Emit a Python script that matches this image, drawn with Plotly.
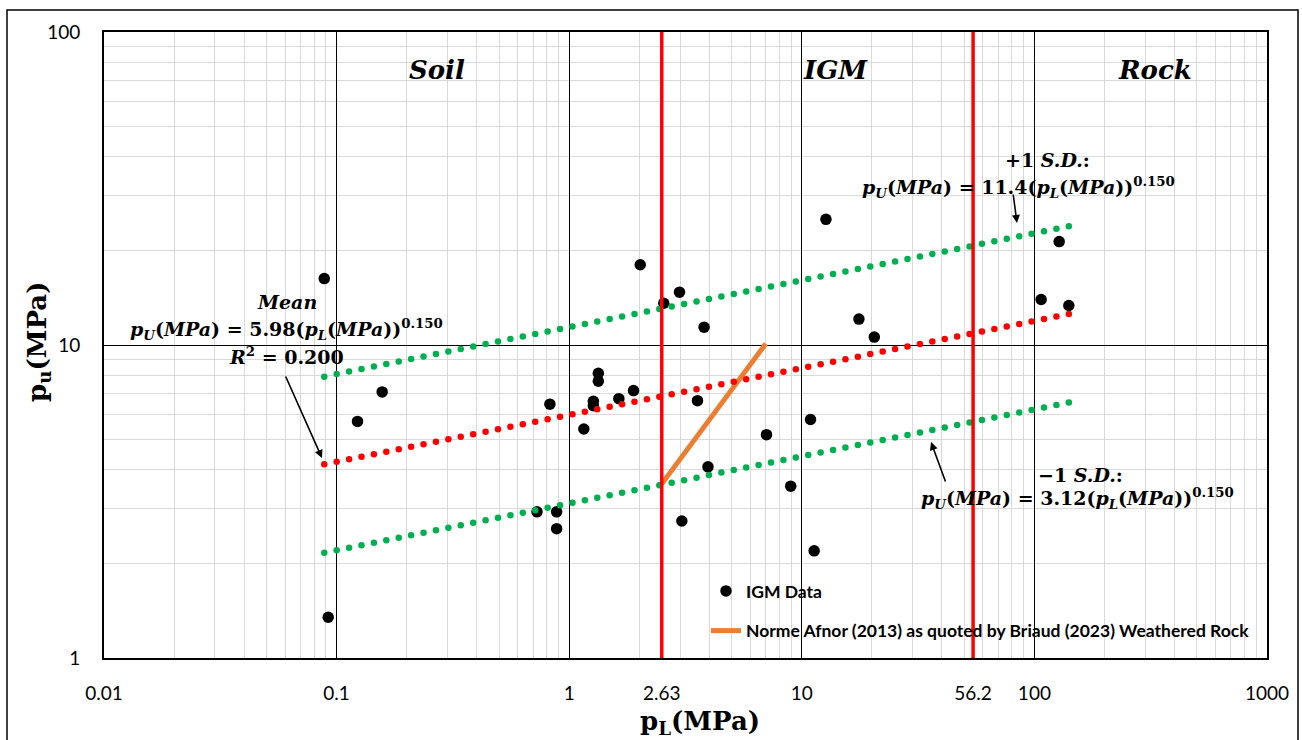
import numpy as np
import plotly.graph_objects as go

# ---------------- data ----------------
pl_data = [0.0885, 0.092, 0.123, 0.157, 0.727, 0.826, 0.883, 0.883, 1.156, 1.27,
           1.27, 1.334, 1.334, 1.635, 1.89, 2.02, 2.55, 2.98, 3.05, 3.56,
           3.80, 3.95, 7.05, 8.96, 10.9, 11.3, 12.7, 17.6, 20.5, 106.9,
           127.8, 140.6]
pu_data = [16.3, 1.35, 5.70, 7.08, 2.93, 6.47, 2.93, 2.59, 5.39, 6.61,
           6.40, 8.12, 7.66, 6.74, 7.15, 18.05, 13.6, 14.75, 2.74, 6.64,
           11.4, 4.08, 5.17, 3.54, 5.78, 2.20, 25.2, 12.1, 10.6, 13.98,
           21.4, 13.37]

afnor_pl = [2.5, 7.0]
afnor_pu = [3.6, 10.1]

# power-law trend coefficients shown on the chart: pu = a * pl^b
coef_mean, coef_plus, coef_minus = 5.98, 11.4, 3.12
exponent = 0.150

boundary_x = [2.5, 54.5]          # red class boundaries (as drawn)
boundary_labels = ["2.63", "56.2"]

x_tickvals = [0.01, 0.1, 1, boundary_x[0], 10, boundary_x[1], 100, 1000]
x_ticktext = ["0.01", "0.1", "1", boundary_labels[0], "10", boundary_labels[1], "100", "1000"]
y_tickvals = [1, 10, 100]
y_ticktext = ["1", "10", "100"]

region_labels = ["Soil", "IGM", "Rock"]

# ---------------- geometry helpers (plot area in pixels) ----------------
L, R, T, B = 104.0, 1267.0, 32.0, 658.0
def px(xp):
    return (xp - L) / (R - L)
def py(yp):
    return (B - yp) / (B - T)

SERIF = "DejaVu Serif"
SANS = "Lato"

fig = go.Figure()

# data points
fig.add_trace(go.Scatter(
    x=pl_data, y=pu_data, mode="markers", name="<b>IGM Data</b>",
    marker=dict(color="black", size=11.5), legendgroup="a", cliponaxis=False))

# Afnor line
fig.add_trace(go.Scatter(
    x=afnor_pl, y=afnor_pu, mode="lines",
    name="<b>Norme Afnor (2013) as quoted by Briaud (2023) Weathered Rock</b>",
    line=dict(color="#ED7D31", width=5), legendgroup="b"))

# trend lines, drawn as dotted markers
xt = np.logspace(np.log10(min(pl_data)), np.log10(max(pl_data)), 61)
for coef, col in [(coef_plus, "#00B050"), (coef_mean, "#FF0000"), (coef_minus, "#00B050")]:
    fig.add_trace(go.Scatter(
        x=xt, y=coef * xt ** exponent, mode="markers",
        marker=dict(color=col, size=6.5), showlegend=False, hoverinfo="skip"))

# red boundaries
for bx in boundary_x:
    fig.add_trace(go.Scatter(
        x=[bx, bx], y=[1, 100], mode="lines",
        line=dict(color="#FF0000", width=3.5), showlegend=False, hoverinfo="skip"))

ann = []
def text_ann(xp, yp, text, font, **kw):
    d = dict(x=px(xp), y=py(yp), xref="paper", yref="paper", text=text,
             showarrow=False, xanchor="center", yanchor="middle", font=font)
    d.update(kw)
    ann.append(d)

# region labels
for txt, xp in zip(region_labels, [437, 835, 1155]):
    text_ann(xp, 70, f"<b><i>{txt}</i></b>", dict(family=SERIF, size=26, color="black"))

def eq(coef):
    return (f"<b><i>p<sub>U</sub></i>(<i>MPa</i>) = {coef}"
            f"(<i>p<sub>L</sub></i>(<i>MPa</i>))<sup>0.150</sup></b>")

eqfont = dict(family=SERIF, size=19, color="black")
# Mean block
text_ann(287, 302, "<b><i>Mean</i></b>", eqfont)
text_ann(286, 329, eq("5.98"), eqfont)
text_ann(286, 356, "<b><i>R</i><sup>2</sup> = 0.200</b>", eqfont)
# +1 SD
text_ann(1047, 160, "<b>+1 <i>S.D.</i>:</b>", eqfont)
text_ann(1018, 187, eq("11.4"), eqfont)
# -1 SD
text_ann(1080, 475, "<b>−1 <i>S.D.</i>:</b>", eqfont)
text_ann(1077, 498, eq("3.12"), eqfont)

# arrows
for hx, hy, tx, ty in [(322, 458, 285, 375), (1017, 223, 1013, 193), (931, 442, 946, 483)]:
    ann.append(dict(x=px(hx), y=py(hy), xref="paper", yref="paper", text="",
                    showarrow=True, ax=tx - hx, ay=ty - hy, arrowhead=2,
                    arrowsize=1, arrowwidth=1.6, arrowcolor="black"))

# axis titles
text_ann(700, 722, "<b>p<sub>L</sub>(MPa)</b>", dict(family=SERIF, size=26, color="black"))
text_ann(38, 342, "<b>p<sub>u</sub>(MPa)</b>", dict(family=SERIF, size=26, color="black"),
         textangle=-90)

fig.update_layout(
    width=1302, height=740,
    margin=dict(l=104, r=35, t=32, b=82),
    paper_bgcolor="white", plot_bgcolor="white",
    annotations=ann,
    showlegend=True,
    legend=dict(x=px(706), y=py(573), xanchor="left", yanchor="top",
                bgcolor="rgba(0,0,0,0)", tracegroupgap=14, itemwidth=30,
                font=dict(family=SANS, size=17.5, color="black")),
    shapes=[dict(type="rect", xref="paper", yref="paper",
                 x0=px(7), x1=px(1298), y0=py(760), y1=py(10),
                 line=dict(color="black", width=1.5), layer="below")],
    xaxis=dict(type="log", range=[-2, 3], tickmode="array",
               tickvals=x_tickvals, ticktext=x_ticktext,
               showgrid=True, gridcolor="black", gridwidth=1,
               minor=dict(dtick="D1", showgrid=True, gridcolor="#d9d9d9", gridwidth=1),
               ticks="outside", ticklen=17, tickcolor="rgba(0,0,0,0)",
               showline=True, linecolor="black", linewidth=2, mirror=True,
               zeroline=False,
               tickfont=dict(family=SANS, size=19, color="black")),
    yaxis=dict(type="log", range=[0, 2], tickmode="array",
               tickvals=y_tickvals, ticktext=y_ticktext,
               showgrid=True, gridcolor="black", gridwidth=1,
               minor=dict(dtick="D1", showgrid=True, gridcolor="#d9d9d9", gridwidth=1),
               ticks="outside", ticklen=18, tickcolor="rgba(0,0,0,0)",
               showline=True, linecolor="black", linewidth=2, mirror=True,
               zeroline=False,
               tickfont=dict(family=SANS, size=19, color="black")),
)

fig.write_html("out.html", config={"displayModeBar": False},
               post_script="document.body.style.margin='0px';")
